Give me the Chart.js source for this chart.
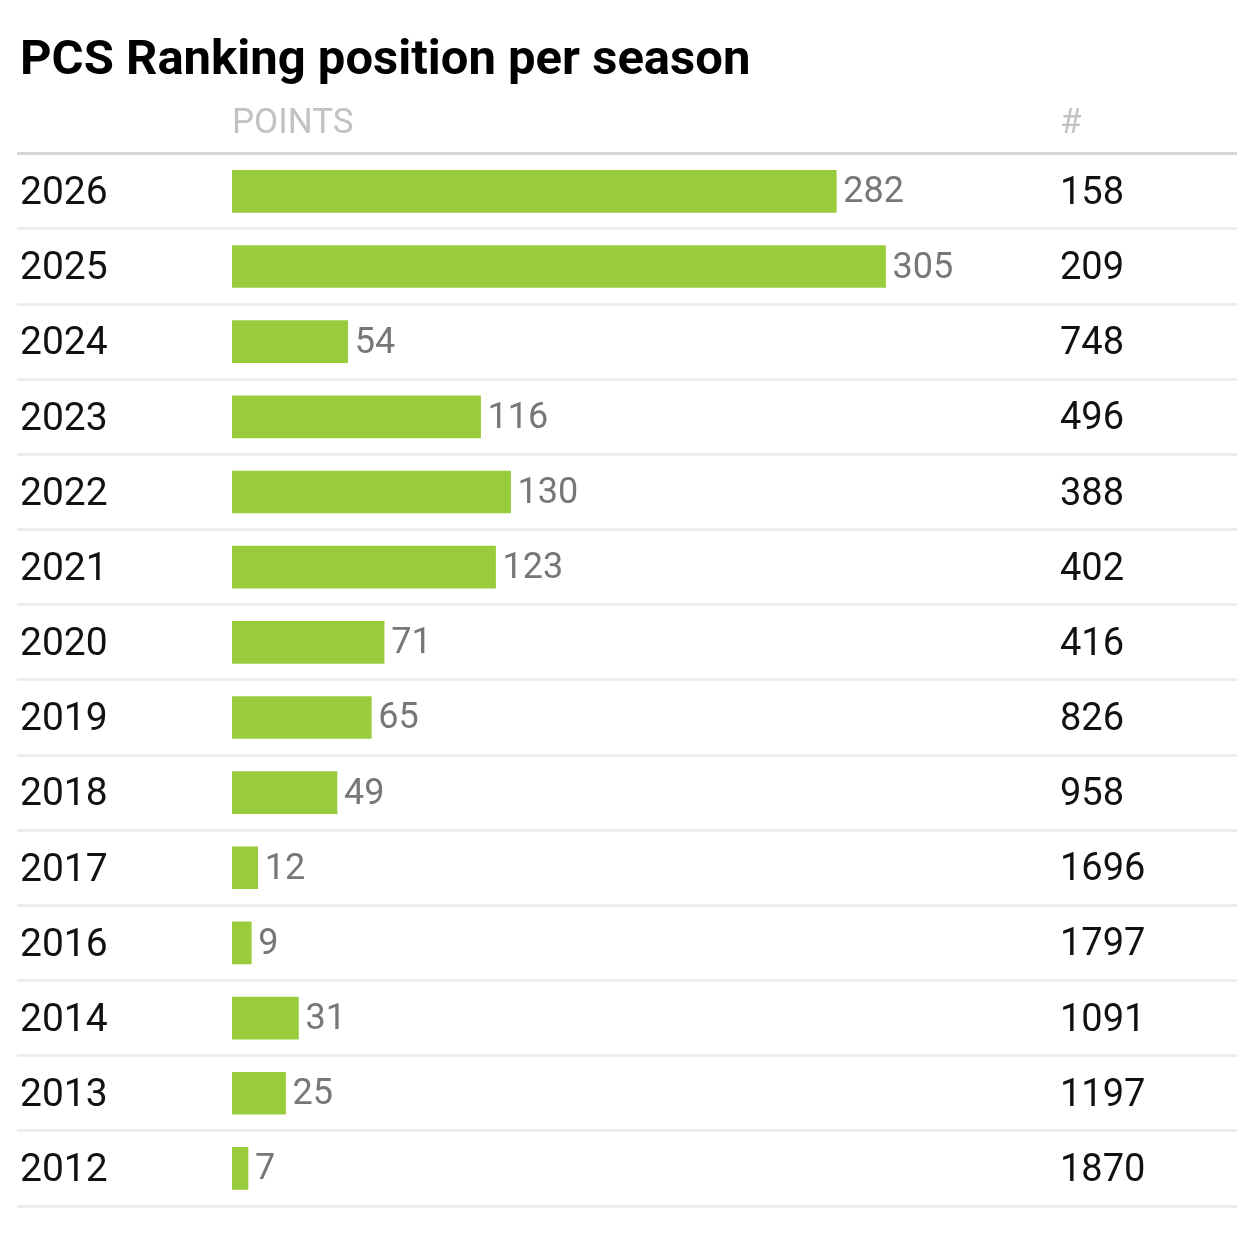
<!DOCTYPE html>
<html>
<head>
<meta charset="utf-8">
<script src="https://cdn.jsdelivr.net/npm/chart.js@4/dist/chart.umd.min.js"></script>
<style>
body { margin: 0; background: #fff; }
#wrap { width: 1237px; height: 1239px; position: relative; }
</style>
</head>
<body>
<div id="wrap"><canvas id="rankChart"></canvas></div>
<script>
// season data, top to bottom
var seasons = ['2026', '2025', '2024', '2023', '2022', '2021', '2020', '2019', '2018', '2017', '2016', '2014', '2013', '2012'];
var points = [282, 305, 54, 116, 130, 123, 71, 65, 49, 12, 9, 31, 25, 7];
var ranks = [158, 209, 748, 496, 388, 402, 416, 826, 958, 1696, 1797, 1091, 1197, 1870];
var columnHeads = ['POINTS', '#'];

var rankX = 1060;

// header texts, value labels and the ranking column
var tableText = {
    id: 'tableText',
    afterDatasetsDraw: function (chart) {
        var ctx = chart.ctx;
        var area = chart.chartArea;
        var yScale = chart.scales.y;
        var bars = chart.getDatasetMeta(0).data;

        ctx.save();
        ctx.textBaseline = 'middle';
        ctx.textAlign = 'left';

        ctx.font = '35px Roboto';
        ctx.fillStyle = '#c2c2c2';
        ctx.fillText(columnHeads[0], area.left, area.top - 30);
        ctx.fillText(columnHeads[1], rankX, area.top - 30);

        ctx.font = '36px Roboto';
        ctx.fillStyle = '#777777';
        bars.forEach(function (bar, i) {
            ctx.fillText(points[i], bar.x + 7, bar.y + 2);
        });

        ctx.font = '38px Roboto';
        ctx.fillStyle = '#111111';
        ranks.forEach(function (r, i) {
            ctx.fillText(r, rankX, yScale.getPixelForValue(i) + 3);
        });
        ctx.restore();
    }
};

var ctx = document.getElementById('rankChart').getContext('2d');
var rankChart = new Chart(ctx, {
    type: 'bar',
    data: {
        labels: seasons,
        datasets: [{
            label: 'Points',
            data: points,
            backgroundColor: '#99cc3c',
            barThickness: 42,
            minBarLength: 16
        }]
    },
    options: {
        indexAxis: 'y',
        responsive: true,
        maintainAspectRatio: false,
        animation: false,
        layout: {
            padding: { top: 0, left: 20, right: 0, bottom: 33 }
        },
        scales: {
            x: {
                display: false,
                min: 0,
                max: 469
            },
            y: {
                border: { display: false },
                grid: {
                    offset: true,
                    drawTicks: true,
                    tickLength: 215,
                    lineWidth: 3,
                    color: function (c) {
                        return c.index === 0 ? '#d6d6d6' : '#ededed';
                    }
                },
                ticks: {
                    crossAlign: 'far',
                    padding: 0,
                    labelOffset: 3,
                    color: '#111111',
                    font: { family: 'Roboto', size: 39 }
                },
                afterFit: function (scale) {
                    scale.width = 212;
                }
            }
        },
        plugins: {
            legend: { display: false },
            tooltip: { enabled: false },
            title: {
                display: true,
                text: 'PCS Ranking position per season',
                align: 'start',
                color: '#000000',
                font: { family: 'Roboto', size: 49, weight: 'bold' },
                padding: { top: 32, bottom: 63 }
            }
        }
    },
    plugins: [tableText]
});
</script>
</body>
</html>
